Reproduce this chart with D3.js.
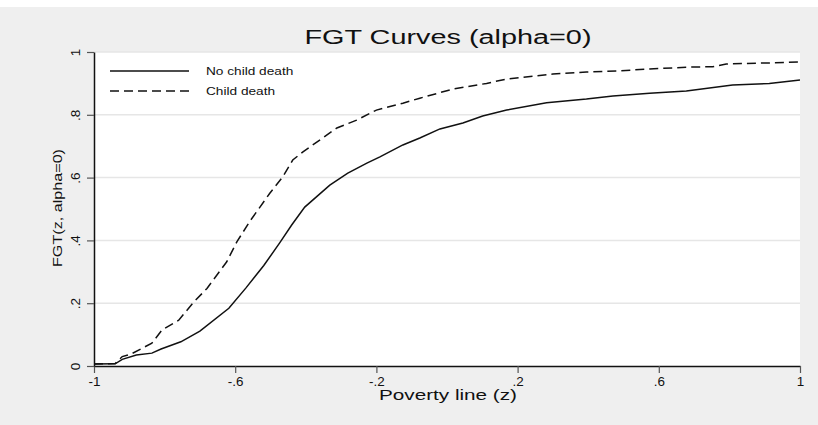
<!DOCTYPE html>
<html>
<head>
<meta charset="utf-8">
<script src="https://cdn.jsdelivr.net/npm/d3@7"></script>
<style>
  html, body { margin: 0; padding: 0; background: #fff; }
  svg { display: block; font-family: "Liberation Sans", Arial, Helvetica, sans-serif; }
</style>
</head>
<body>
<svg id="chart" width="818" height="425"></svg>
<script>
// values
const noDeathZ = [-1, -0.94, -0.92, -0.88, -0.836, -0.81, -0.754, -0.70, -0.618, -0.57, -0.519, -0.474, -0.44, -0.403, -0.332, -0.281, -0.227, -0.19, -0.125, -0.077, -0.02, 0.045, 0.101, 0.169, 0.282, 0.395, 0.47, 0.574, 0.678, 0.809, 0.913, 1];
const noDeathFGT = [0.006, 0.007, 0.021, 0.035, 0.041, 0.054, 0.077, 0.111, 0.184, 0.248, 0.32, 0.392, 0.449, 0.506, 0.576, 0.614, 0.646, 0.666, 0.704, 0.726, 0.755, 0.774, 0.796, 0.815, 0.838, 0.85, 0.86, 0.869, 0.876, 0.895, 0.9, 0.911];

const deathZ = [-1, -0.94, -0.92, -0.895, -0.836, -0.807, -0.76, -0.717, -0.68, -0.624, -0.595, -0.556, -0.502, -0.465, -0.437, -0.408, -0.312, -0.256, -0.2, -0.125, -0.077, 0.017, 0.112, 0.169, 0.3, 0.395, 0.489, 0.574, 0.687, 0.752, 0.791, 0.904, 1];
const deathFGT = [0.006, 0.008, 0.03, 0.038, 0.073, 0.115, 0.146, 0.204, 0.247, 0.332, 0.396, 0.465, 0.55, 0.603, 0.656, 0.682, 0.758, 0.783, 0.815, 0.837, 0.853, 0.882, 0.9, 0.914, 0.93, 0.936, 0.94, 0.946, 0.952, 0.953, 0.962, 0.965, 0.968];

const seriesNames = ["No child death", "Child death"];
const xTicks = [-1, -0.6, -0.2, 0.2, 0.6, 1];
const xTickLabels = ["-1", "-.6", "-.2", ".2", ".6", "1"];
const yTicks = [0, 0.2, 0.4, 0.6, 0.8, 1];
const yTickLabels = ["0", ".2", ".4", ".6", ".8", "1"];

const WIDTH = 818;
const HEIGHT = 425;
const PLOT = { left: 94, right: 800, top: 52, bottom: 366 };
const BG = "#efefef";
const GRID = "#e6e6e6";
const INK = "#111";

const svg = d3.select("#chart");

svg.append("rect").attr("width", WIDTH).attr("height", HEIGHT).attr("fill", BG);
svg.append("rect").attr("width", WIDTH).attr("height", 7).attr("fill", "#fff");

const x = d3.scaleLinear().domain([-1, 1]).range([PLOT.left, PLOT.right]);
const y = d3.scaleLinear().domain([0, 1]).range([PLOT.bottom, PLOT.top]);

svg.append("rect")
  .attr("x", PLOT.left)
  .attr("y", PLOT.top)
  .attr("width", PLOT.right - PLOT.left)
  .attr("height", PLOT.bottom - PLOT.top)
  .attr("fill", "#fff");

// horizontal grid
svg.append("g")
  .selectAll("line")
  .data(yTicks.filter((d) => d > 0))
  .join("line")
  .attr("x1", PLOT.left)
  .attr("x2", PLOT.right)
  .attr("y1", (d) => y(d))
  .attr("y2", (d) => y(d))
  .attr("stroke", GRID)
  .attr("stroke-width", 1.5);

// squeeze/stretch text horizontally to the width seen in the reference
function stretch(sel, factor) {
  sel.each(function () {
    const w = this.getComputedTextLength();
    d3.select(this).attr("textLength", w * factor).attr("lengthAdjust", "spacingAndGlyphs");
  });
}

const xAxis = svg.append("g")
  .attr("transform", `translate(0,${PLOT.bottom})`)
  .call(
    d3.axisBottom(x)
      .tickValues(xTicks)
      .tickFormat((d, i) => xTickLabels[i])
      .tickSize(7)
      .tickSizeOuter(0)
  );
xAxis.select(".domain").attr("stroke", INK).attr("stroke-width", 1.5);
xAxis.selectAll(".tick line").attr("stroke", "#555").attr("stroke-width", 1.2);
xAxis.selectAll(".tick text")
  .attr("y", 20)
  .attr("dy", 0)
  .attr("fill", INK)
  .attr("font-size", 12)
  .call(stretch, 1.12);

const yAxis = svg.append("g")
  .attr("transform", `translate(${PLOT.left},0)`)
  .call(
    d3.axisLeft(y)
      .tickValues(yTicks)
      .tickFormat((d, i) => yTickLabels[i])
      .tickSize(7)
      .tickSizeOuter(0)
  );
yAxis.select(".domain").attr("stroke", INK).attr("stroke-width", 1.5);
yAxis.selectAll(".tick line").attr("stroke", "#555").attr("stroke-width", 1.2);
yAxis.selectAll(".tick text")
  .attr("transform", "rotate(-90)")
  .attr("x", 0)
  .attr("y", -14)
  .attr("dy", 0)
  .attr("text-anchor", "middle")
  .attr("fill", INK)
  .attr("font-size", 12)
  .call(stretch, 1.12);

// curves
const line = d3.line()
  .x((d) => x(d[0]))
  .y((d) => y(d[1]));

const curves = [
  { name: seriesNames[0], pts: d3.zip(noDeathZ, noDeathFGT), dash: null },
  { name: seriesNames[1], pts: d3.zip(deathZ, deathFGT), dash: "9,5" },
];

svg.append("g")
  .selectAll("path")
  .data(curves)
  .join("path")
  .attr("d", (d) => line(d.pts))
  .attr("fill", "none")
  .attr("stroke", INK)
  .attr("stroke-width", 1.5)
  .attr("stroke-dasharray", (d) => d.dash);

// legend
const legend = svg.append("g")
  .selectAll("g")
  .data(curves)
  .join("g")
  .attr("transform", (d, i) => `translate(110,${71 + i * 20})`);

legend.append("line")
  .attr("x1", 0)
  .attr("x2", 79)
  .attr("stroke", INK)
  .attr("stroke-width", 1.5)
  .attr("stroke-dasharray", (d) => d.dash);

legend.append("text")
  .attr("x", 96)
  .attr("dy", "0.35em")
  .attr("font-size", 10.5)
  .attr("fill", INK)
  .text((d) => d.name)
  .call(stretch, 1.3);

// titles
svg.append("text")
  .attr("x", 448)
  .attr("y", 44)
  .attr("text-anchor", "middle")
  .attr("font-size", 20)
  .attr("fill", INK)
  .attr("textLength", 287)
  .attr("lengthAdjust", "spacingAndGlyphs")
  .text("FGT Curves (alpha=0)");

svg.append("text")
  .attr("x", 448)
  .attr("y", 400)
  .attr("text-anchor", "middle")
  .attr("font-size", 15)
  .attr("fill", INK)
  .attr("textLength", 138)
  .attr("lengthAdjust", "spacingAndGlyphs")
  .text("Poverty line (z)");

svg.append("text")
  .attr("transform", "translate(62,208) rotate(-90)")
  .attr("text-anchor", "middle")
  .attr("font-size", 13)
  .attr("fill", INK)
  .attr("textLength", 118)
  .attr("lengthAdjust", "spacingAndGlyphs")
  .text("FGT(z, alpha=0)");
</script>
</body>
</html>
